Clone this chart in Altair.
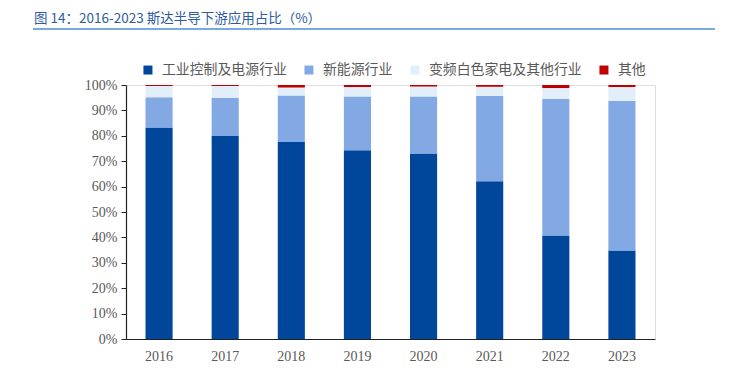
import altair as alt
import pandas as pd

years = ["2016", "2017", "2018", "2019", "2020", "2021", "2022", "2023"]
categories = ["工业控制及电源行业", "新能源行业", "变频白色家电及其他行业", "其他"]
industrial = [83.3, 79.9, 77.6, 74.3, 73.0, 62.1, 40.7, 34.8]
new_energy = [11.9, 15.1, 18.3, 21.2, 22.5, 33.6, 53.9, 58.9]
appliance = [4.4, 4.6, 3.1, 3.7, 3.9, 3.6, 4.2, 5.5]
others = [0.4, 0.4, 1.0, 0.8, 0.6, 0.7, 1.2, 0.8]
colors = ["#00469B", "#82A9E4", "#E3EEFB", "#C00000"]

rows = []
for i, y in enumerate(years):
    for k, (cat, series) in enumerate(zip(categories, [industrial, new_energy, appliance, others])):
        rows.append({"year": y, "cat": cat, "value": series[i], "ord": k})
df = pd.DataFrame(rows)

font_cjk = "Noto Sans CJK SC"
font_num = "Liberation Serif"

bars = alt.Chart(df).mark_bar().encode(
    x=alt.X("year:N", sort=years, title=None,
            scale=alt.Scale(paddingInner=0.59, paddingOuter=0.295),
            axis=alt.Axis(labelAngle=0, ticks=False, domainColor="#222222", domainWidth=1.2,
                          labelFont=font_num, labelFontSize=14, labelColor="#595959", labelPadding=10)),
    y=alt.Y("value:Q", stack="zero", title=None,
            scale=alt.Scale(domain=[0, 100], nice=False),
            axis=alt.Axis(values=list(range(0, 101, 10)), labelExpr="datum.value + '%'",
                          grid=False, tickColor="#222222", tickSize=5, domainColor="#222222", domainWidth=1.2,
                          labelFont=font_num, labelFontSize=14, labelColor="#595959", labelPadding=4)),
    color=alt.Color("cat:N", sort=categories,
                    scale=alt.Scale(domain=categories, range=colors),
                    legend=alt.Legend(title=None, orient="none", direction="horizontal",
                                      legendX=15, legendY=-22, symbolType="square", symbolSize=81,
                                      symbolStrokeWidth=0, labelFont=font_cjk, labelFontSize=13.9,
                                      labelColor="#595959", columnPadding=15, labelOffset=7)),
    order=alt.Order("ord:Q", sort="ascending"),
)

title = alt.Chart(pd.DataFrame({"t": ["图 14：2016-2023 斯达半导下游应用占比（%）"]})).mark_text(
    align="left", baseline="middle", font=font_cjk, fontSize=13.5, color="#2E5C9E"
).encode(x=alt.value(-92), y=alt.value(-66), text="t:N")

top_line = alt.Chart(pd.DataFrame({"a": [0]})).mark_rule(color="#4A8FD4", strokeWidth=1.5).encode(
    x=alt.value(-93), x2=alt.value(589), y=alt.value(-56))
bottom_line = alt.Chart(pd.DataFrame({"a": [0]})).mark_rule(color="#4A9BE0", strokeWidth=1.5).encode(
    x=alt.value(-93), x2=alt.value(589), y=alt.value(296))

chart = alt.layer(bars, title, top_line, bottom_line).properties(
    width=529, height=254,
    autosize=alt.AutoSizeParams(type="none"),
    padding={"left": 118, "top": 77, "right": 66, "bottom": 41},
).configure_view(stroke=None).configure(background="white")

chart.save("out.html", embed_options={"renderer": "svg", "actions": False})
